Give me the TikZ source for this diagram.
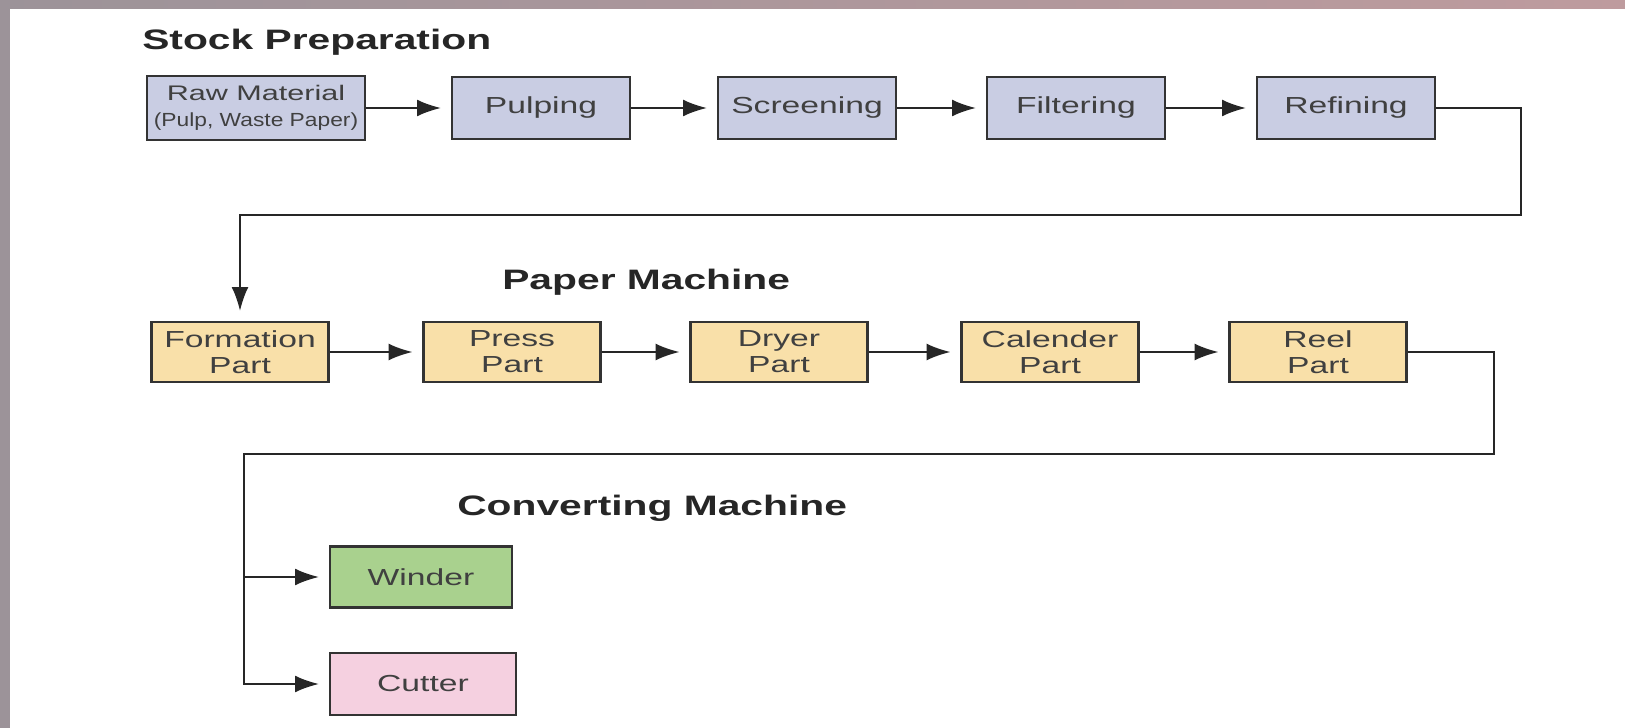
\documentclass[tikz,border=0pt]{standalone}
\usepackage{fontspec}
\setmainfont{Liberation Sans}[FakeStretch=1.45]
\newfontfamily\narrowfont{Liberation Sans}[FakeStretch=1.2]
\usetikzlibrary{arrows.meta}
\definecolor{stockblue}{HTML}{C9CDE3}
\definecolor{paperyellow}{HTML}{F9E0A9}
\definecolor{windgreen}{HTML}{A9D18E}
\definecolor{cutpink}{HTML}{F5D0E0}
\definecolor{edgegray}{HTML}{9C9399}
\definecolor{edgerose}{HTML}{BE9B9E}
\begin{document}
\begin{tikzpicture}[x=0.025cm,y=-0.025cm,
  procbox/.style={draw=black!80,line width=1.7pt,text=black!75,align=center,inner sep=0pt,
    font=\fontsize{16.5}{18.5}\selectfont},
  stock/.style={procbox,fill=stockblue,minimum width=4.45cm,minimum height=1.55cm},
  paper/.style={procbox,fill=paperyellow,minimum width=4.42cm,minimum height=1.5cm},
  heading/.style={anchor=base west,inner sep=0pt,text=black!85,
    font=\fontsize{20}{24}\selectfont\bfseries},
  flow/.style={draw=black!85,line width=1.4pt,-{Latex[length=17pt,width=12pt]},shorten >=7pt}]

% Frame
\fill[white] (0,0) rectangle (1625,728);
\shade[left color=edgegray,right color=edgerose] (0,0) rectangle (1625,9);
\fill[edgegray] (0,0) rectangle (10,728);

% Stock preparation
\node[heading] (hstock) at (142,50) {Stock Preparation};
\node[stock,minimum width=5.45cm,minimum height=1.6cm] (raw) at (256,108)
  {{\fontsize{15}{16}\selectfont Raw Material}\\{\narrowfont\fontsize{13.5}{15}\selectfont (Pulp, Waste Paper)}};
\node[stock] (pulp) at (541,108) {Pulping};
\node[stock] (screen) at (807,108) {Screening};
\node[stock] (filter) at (1076,108) {Filtering};
\node[stock] (refine) at (1346,108) {Refining};

% Paper machine
\node[heading] (hpaper) at (502,290) {Paper Machine};
\node[paper] (form) at (240,352) {Formation\\Part};
\node[paper] (press) at (512,352) {Press\\Part};
\node[paper] (dryer) at (779,352) {Dryer\\Part};
\node[paper] (calender) at (1050,352) {Calender\\Part};
\node[paper] (reel) at (1318,352) {Reel\\Part};

% Converting machine
\node[heading] (hconv) at (457,515) {Converting Machine};
\node[procbox,fill=windgreen,minimum width=4.55cm,minimum height=1.52cm] (winder) at (421,577) {Winder};
\node[procbox,fill=cutpink,minimum width=4.65cm,minimum height=1.55cm] (cutter) at (423,684) {Cutter};

% Connectors
\foreach \a/\b in {raw/pulp,pulp/screen,screen/filter,filter/refine,
  form/press,press/dryer,dryer/calender,calender/reel}
  \draw[flow] (\a.east) -- (\b.west);

\coordinate (turn1) at (1521,215);
\draw[flow] (refine.east) -| (turn1) -| (form.north);

\coordinate (turn2) at (1494,454);
\coordinate (split) at (244,577);
\draw[flow] (reel.east) -| (turn2) -| (split) |- (cutter.west);
\draw[flow] (split) -- (winder.west);
\end{tikzpicture}
\end{document}
